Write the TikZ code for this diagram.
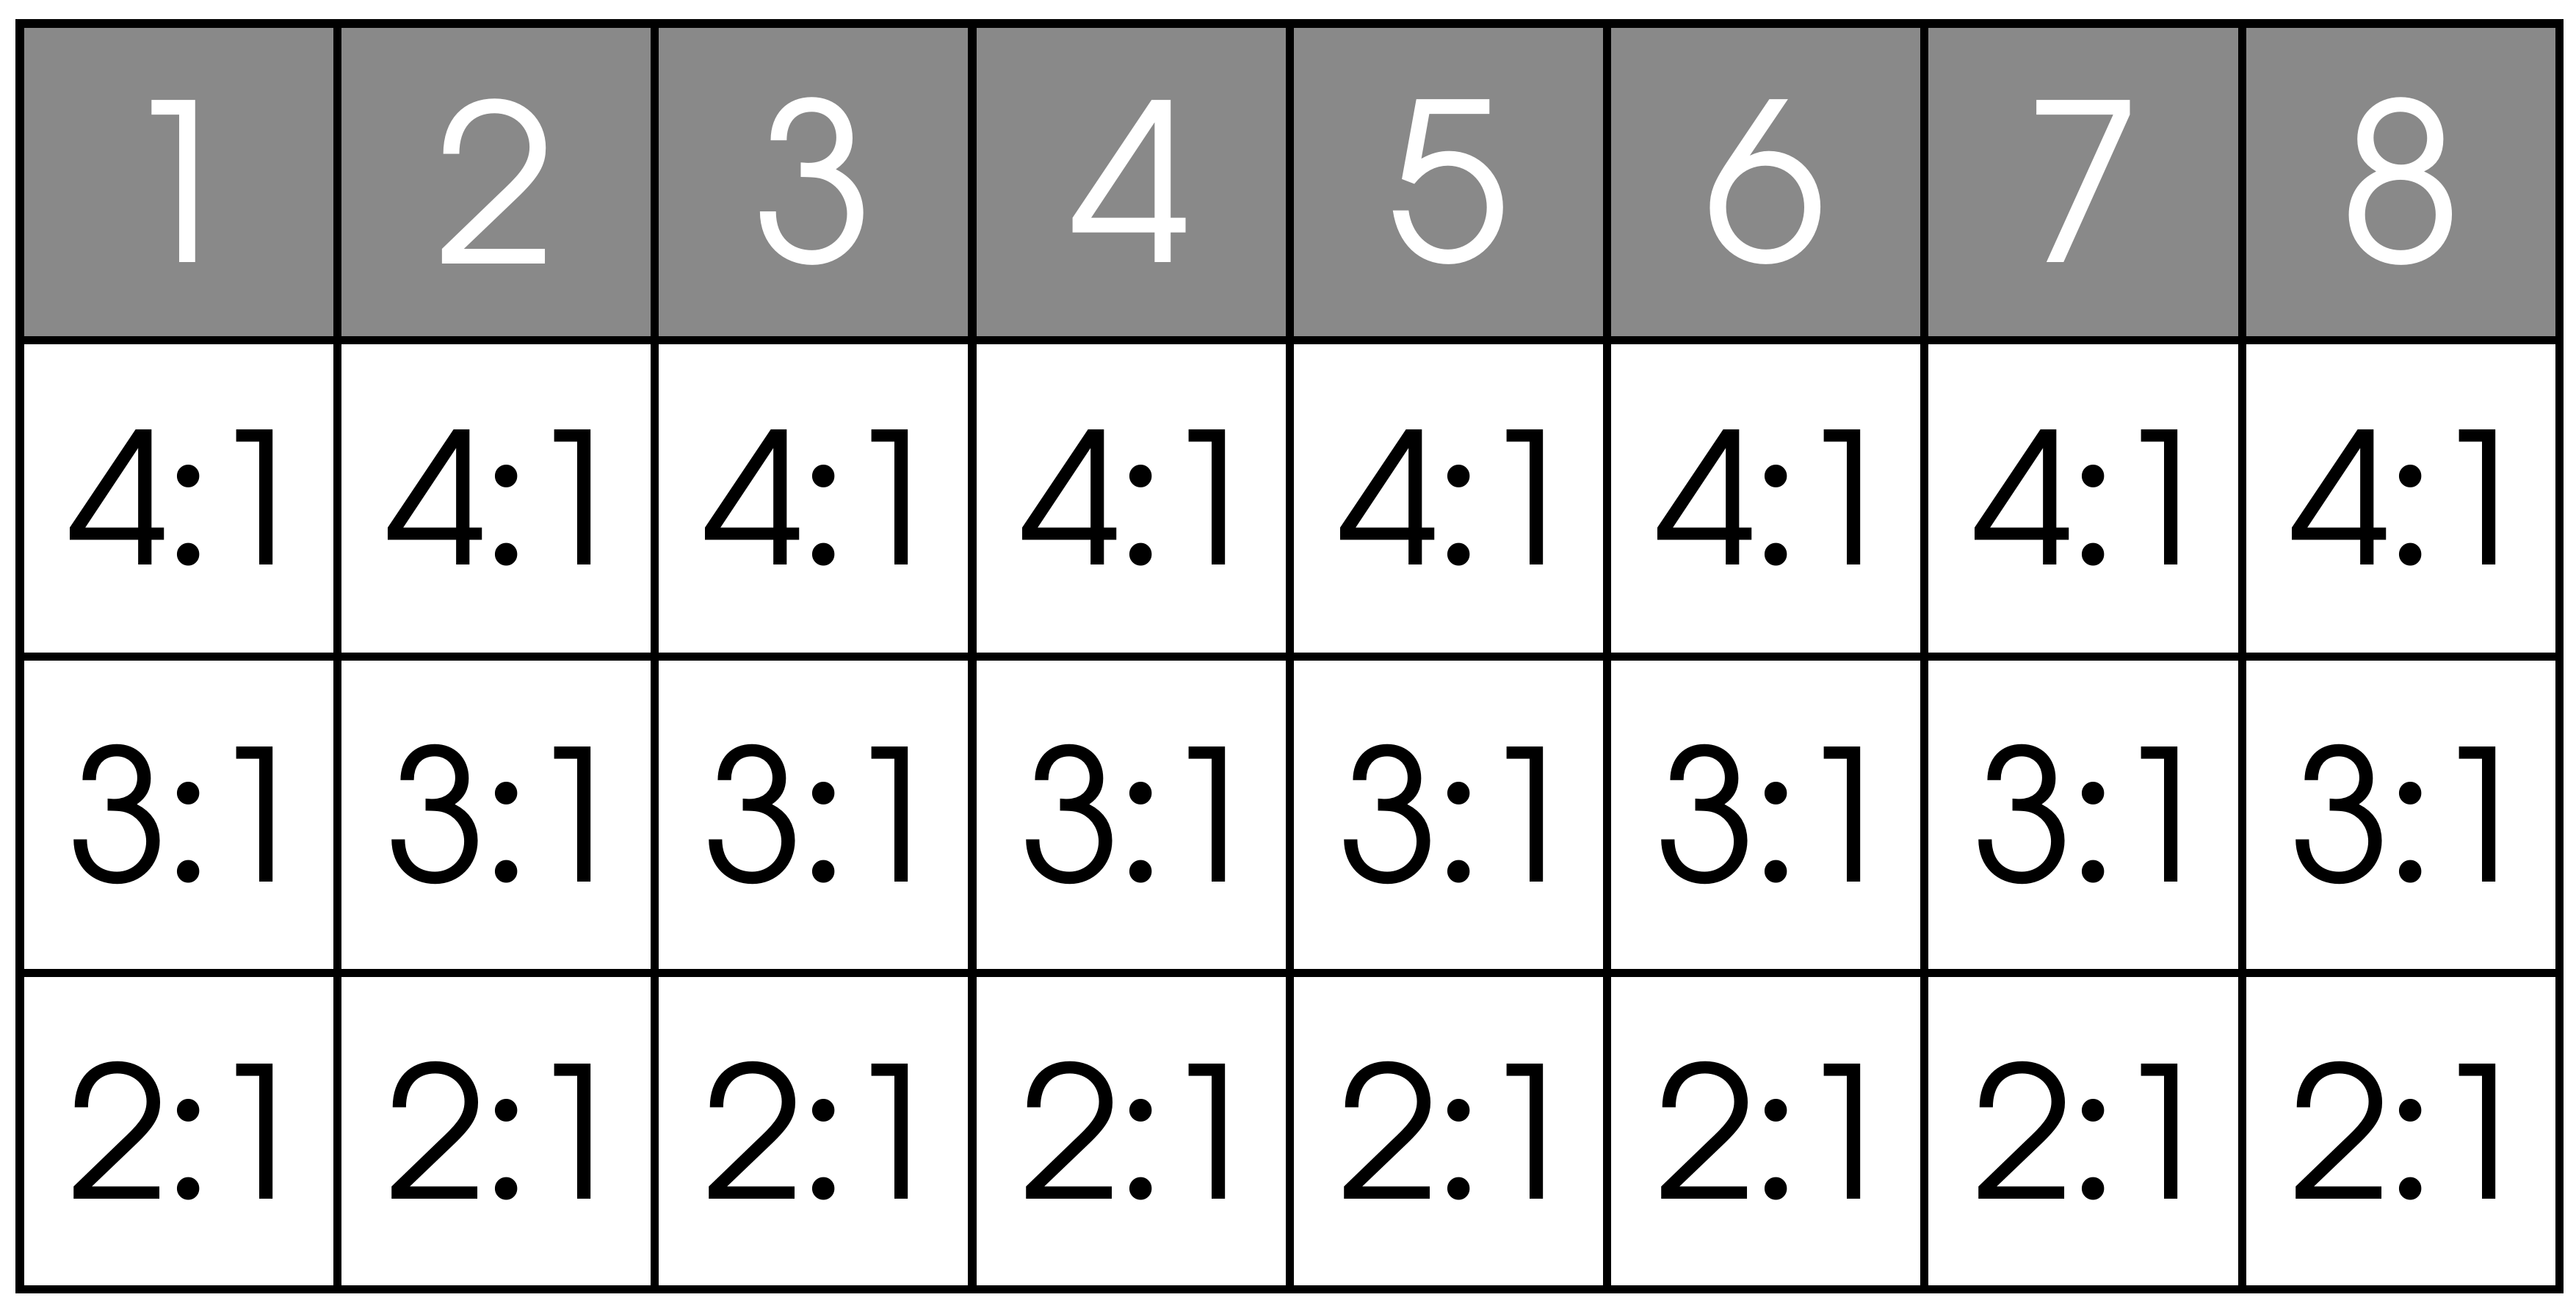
\documentclass[tikz,border=0pt]{standalone}
\usepackage{fontspec}
\setmainfont{TeX Gyre Adventor}
\newfontfamily\colonfont{Poppins}
\usetikzlibrary{positioning}

\definecolor{headgray}{RGB}{137,137,137}
\newcommand{\ratio}[1]{#1{\colonfont:}1}

\tikzset{
  box/.style  = {draw, line width=0.95mm, inner sep=0pt,
                 minimum width=36.6mm, minimum height=36.5mm},
  cell/.style = {box, execute at begin node=\hspace{2.4mm},
                 font=\fontsize{60}{60}\selectfont},
  head/.style = {box, fill=headgray, text=white,
                 font=\fontsize{72}{72}\selectfont}
}

\begin{document}
\begin{tikzpicture}[x=1mm, y=1mm, node distance = 36.5mm and 36.6mm, on grid]
  \useasboundingbox (0,0) rectangle (297,151.13);
  \node[head] (h1) at (20.59,130.17) {1};
  \foreach \i [count=\j from 2] in {1,...,7}
    \node[head] (h\j) [right=of h\i] {\j};
  \foreach \c in {1,...,8} {
    \node[cell] (a\c) [below=of h\c] {\ratio{4}};
    \node[cell] (b\c) [below=of a\c] {\ratio{3}};
    \node[cell] (c\c) [below=of b\c] {\ratio{2}};
  }
\end{tikzpicture}
\end{document}
